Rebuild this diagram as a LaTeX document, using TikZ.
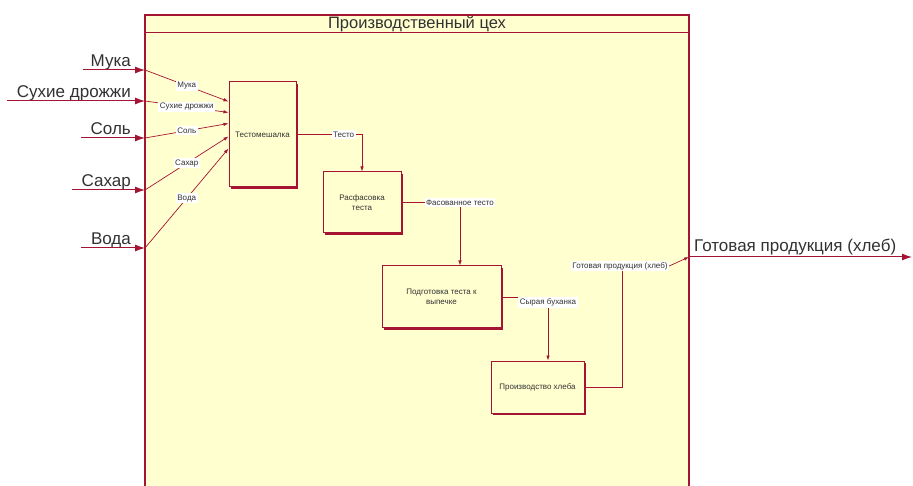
\documentclass[tikz,border=0pt]{standalone}
\usepackage{fontspec}
\setmainfont{Liberation Sans}
\usetikzlibrary{arrows.meta,shadows,calc}

\definecolor{idefred}{RGB}{165,20,50}
\definecolor{idefpaper}{RGB}{255,255,208}
\definecolor{idefink}{RGB}{50,50,50}

\begin{document}
\begin{tikzpicture}[x=1pt,y=-1pt,
  func/.style={draw=idefred,line width=1pt,fill=idefpaper,align=center,text=idefink,
    font=\fontsize{8}{9.5}\selectfont,inner sep=2pt,
    drop shadow={shadow xshift=1.6pt,shadow yshift=-1.6pt,fill=idefred,opacity=1}},
  lbl/.style={fill=white,inner sep=1.5pt,text=idefink,font=\fontsize{8}{9}\selectfont},
  extlbl/.style={inner sep=0pt,text=idefink,font=\fontsize{17}{20}\selectfont},
  flow/.style={draw=idefred,line width=0.7pt},
  flowarrow/.style={flow,-{Latex[length=5pt,width=3.5pt]}},
  extarrow/.style={draw=idefred,line width=1pt,-{Latex[length=10pt,width=7pt]}}]

% page and frame
\useasboundingbox (0,0) rectangle (913,486);
\clip (0,0) rectangle (913,486);
\fill[white] (0,0) rectangle (913,486);
\draw[idefred,line width=1.3pt,fill=idefpaper] (145,15) rectangle (689,500);
\draw[idefred,line width=1pt] (145,33) -- (689,33);
\node[font=\fontsize{16.5}{18}\selectfont,text=idefink,inner sep=0pt] (title) at (417,24) {Производственный цех};

% function boxes
\node[func,minimum width=67pt,minimum height=105pt] (mix) at (262.5,134.5) {Тестомешалка};
\node[func,minimum width=78pt,minimum height=61pt] (pack) at (362,202.5) {Расфасовка\\теста};
\node[func,minimum width=119pt,minimum height=62pt] (prep) at (441.5,297) {Подготовка теста к\\выпечке};
\node[func,minimum width=93pt,minimum height=52pt] (prod) at (537.5,387) {Производство хлеба};

% inputs from outside to the mixer
\foreach \name/\y/\xs/\dy [count=\i] in {Мука/70/83/20, Сухие дрожжи/101/7/31,
    Соль/138/81/42, Сахар/190/72/55, Вода/248/81/67} {
  \coordinate (src\i) at (\xs,\y);
  \coordinate (edge\i) at (145,\y);
  \node[extlbl,anchor=base east] (ext\i) at (131,\y-3.5) {\name};
  \draw[extarrow] (src\i) -- (edge\i);
  \draw[flowarrow] (edge\i) -- node[lbl] (int\i) {\name} ($(mix.north west)+(0,\dy)$);
}

% flows between the boxes
\draw[flowarrow] (mix.east) -| node[lbl,pos=0.36] (dough) {Тесто} (pack.north);
\draw[flowarrow] (pack.east) -| node[lbl,pos=0.5] (packed) {Фасованное тесто}
  ($(prep.north)+(18.5,0)$);
\draw[flowarrow] (prep.east) -| node[lbl,pos=0.5,anchor=north] (raw) {Сырая буханка}
  ($(prod.north)+(10.5,0)$);

% output
\coordinate (bend) at (622,265);
\coordinate (out) at (689,257);
\coordinate (outend) at (912,257);
\draw[flow] (prod.east) -| (bend);
\node[lbl] (ready) at (620,266) {Готовая продукция (хлеб)};
\draw[flowarrow] (ready.east) -- (out);
\draw[extarrow] (out) -- (outend);
\node[extlbl,anchor=base west] (extout) at (694,252) {Готовая продукция (хлеб)};

\end{tikzpicture}
\end{document}
